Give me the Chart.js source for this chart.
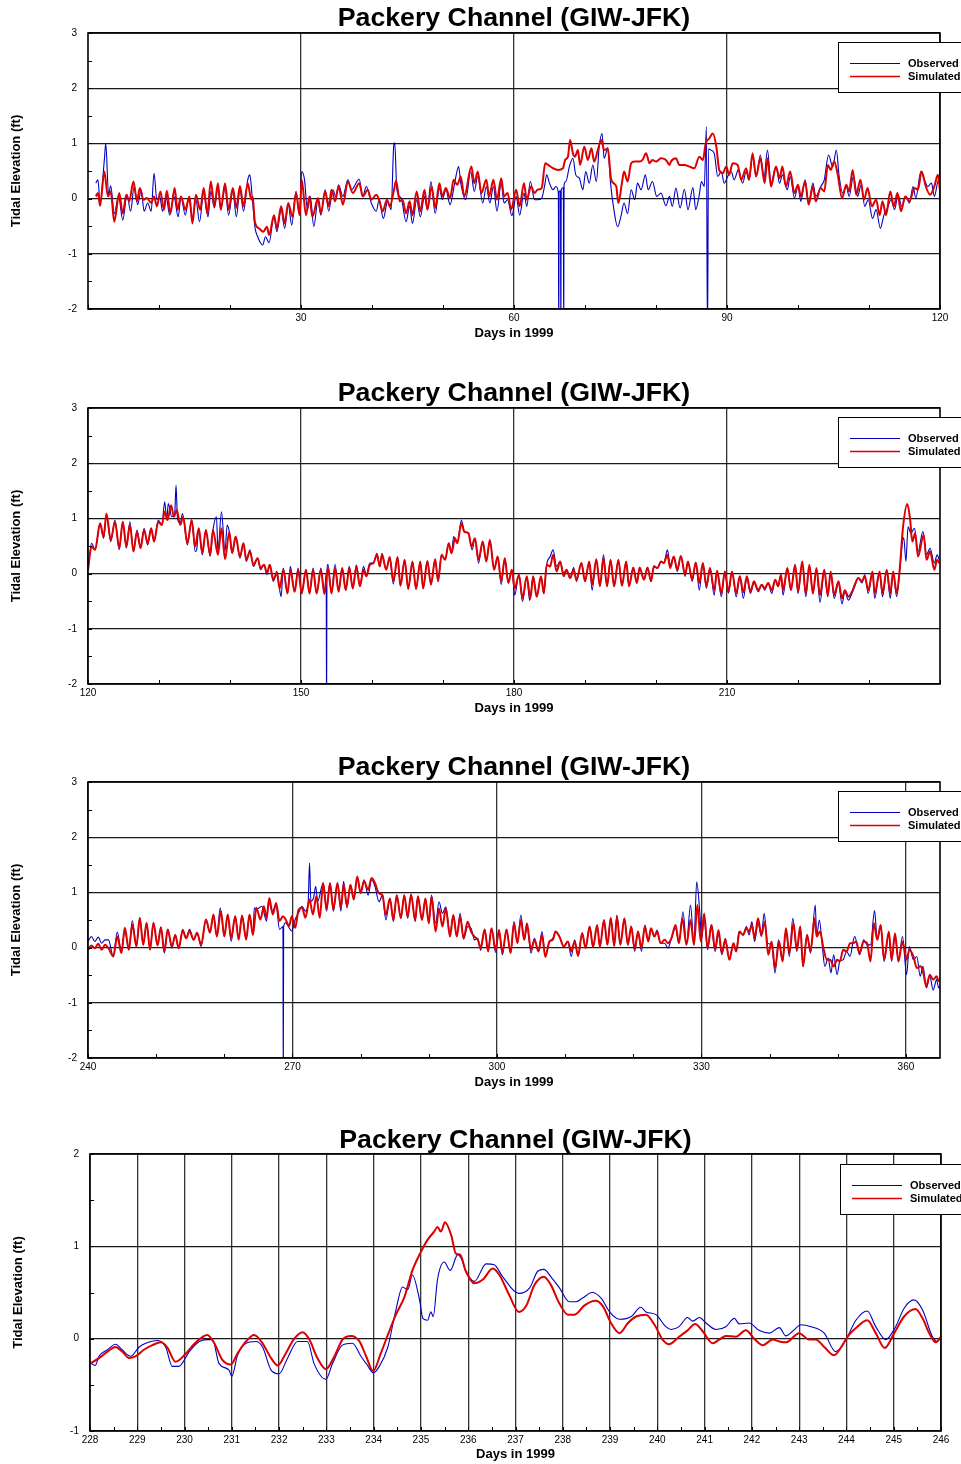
<!DOCTYPE html>
<html><head><meta charset="utf-8">
<script src="https://cdn.jsdelivr.net/npm/chart.js@4.4.1/dist/chart.umd.min.js"></script>
<style>
html,body{margin:0;padding:0;background:#fff;overflow:hidden;width:961px;height:1464px;}
canvas{position:absolute;left:0;}
</style></head><body>
<canvas id="c1" width="961" height="345" style="top:0px"></canvas>
<canvas id="c2" width="961" height="345" style="top:375px"></canvas>
<canvas id="c3" width="961" height="345" style="top:749px"></canvas>
<canvas id="c4" width="961" height="345" style="top:1121px"></canvas>
<script>
const TITLE = 'Packery Channel (GIW-JFK)';
const X_TITLE = 'Days in 1999';
const Y_TITLE = 'Tidal Elevation (ft)';

const P1_X_TICKS = [30, 60, 90, 120];
const P2_X_TICKS = [120, 150, 180, 210];
const P3_X_TICKS = [240, 270, 300, 330, 360];
const P4_X_TICKS = [228, 229, 230, 231, 232, 233, 234, 235, 236, 237, 238, 239, 240, 241, 242, 243, 244, 245, 246];
const Y_TICKS_A = [-2, -1, 0, 1, 2, 3];
const Y_TICKS_B = [-1, 0, 1, 2];

// [day, elevation ft]
const P1_SIMULATED = [[1.1,0.04],[1.4,0.10],[1.7,-0.13],[2.3,0.49],[2.8,0.04],[3.2,0.13],[3.7,-0.42],[4.4,0.10],[4.9,-0.27],[5.4,0.07],[5.8,-0.05],[6.4,0.31],[6.9,-0.05],[7.3,0.19],[7.8,-0.02],[8.3,0.01],[8.9,-0.08],[9.3,0.04],[9.7,-0.14],[10.2,0.13],[10.7,-0.20],[11.1,0.14],[11.6,-0.27],[12.2,0.19],[12.6,-0.20],[13.1,0.04],[13.7,-0.20],[14.3,0.04],[14.7,-0.45],[15.2,0.07],[15.8,-0.20],[16.3,0.19],[16.8,-0.27],[17.3,0.31],[17.8,-0.14],[18.3,0.28],[18.7,-0.20],[19.3,0.28],[19.8,-0.20],[20.4,0.19],[20.9,-0.17],[21.4,0.23],[21.9,-0.14],[22.5,0.28],[23.0,-0.02],[23.2,0.04],[23.5,-0.42],[24.1,-0.54],[24.7,-0.60],[25.2,-0.51],[25.5,-0.66],[26.2,-0.30],[26.6,-0.54],[27.2,-0.14],[27.7,-0.45],[28.2,-0.08],[28.8,-0.33],[29.3,0.10],[29.8,-0.30],[30.1,0.34],[30.7,-0.30],[31.2,0.04],[31.6,-0.33],[32.4,0.01],[32.8,-0.27],[33.4,0.13],[33.9,-0.14],[34.3,0.16],[34.8,-0.05],[35.3,0.22],[35.9,-0.11],[36.6,0.31],[37.3,0.10],[38.2,0.28],[38.7,0.04],[39.4,0.16],[39.9,-0.02],[40.6,0.07],[41.0,-0.02],
[41.5,-0.23],[42.1,-0.02],[42.5,-0.14],[43.1,0.16],[43.4,0.33],[43.9,-0.05],[44.3,-0.02],[44.8,-0.27],[45.3,-0.05],[45.7,-0.30],[46.3,0.13],[46.8,-0.23],[47.4,0.16],[47.8,-0.20],[48.4,0.22],[48.9,-0.17],[49.5,0.28],[49.9,0.04],[50.4,0.19],[51.0,0.01],[51.5,0.34],[52.0,0.25],[52.5,0.40],[53.0,0.04],[54.0,0.58],[54.4,0.28],[54.9,0.49],[55.4,0.10],[56.1,0.34],[56.5,0.04],[57.1,0.34],[57.6,-0.02],[58.2,0.37],[58.6,0.04],[59.1,0.10],[59.6,-0.20],[60.3,0.16],[60.8,-0.14],[61.4,0.28],[61.8,-0.02],[62.4,0.22],[62.9,0.10],[63.3,0.16],[63.9,0.19],[64.4,0.64],[64.8,0.61],[65.5,0.55],[66.2,0.52],[66.9,0.55],[67.2,0.70],[67.6,0.76],[67.9,1.06],[68.3,0.82],[68.6,0.76],[69.0,0.88],[69.3,0.61],[69.9,0.94],[70.4,0.70],[70.9,0.91],[71.3,0.67],[71.8,0.88],[72.3,1.06],[72.7,0.88],[73.2,0.91],[73.7,0.34],[74.4,0.22],[74.7,-0.08],[75.2,0.28],[75.5,0.49],[76.0,0.31],[76.5,0.64],[77.0,0.67],[77.7,0.67],[78.1,0.70],[78.6,0.82],[79.1,0.64],[79.5,0.70],[80.0,0.67],[80.7,0.73],[81.4,0.70],[81.9,0.61],
[82.1,0.67],[82.8,0.73],[83.3,0.61],[84.0,0.61],[84.7,0.58],[85.4,0.55],[86.1,0.76],[86.6,0.70],[87.0,1.00],[87.5,1.09],[88.0,1.18],[88.5,0.94],[88.9,0.52],[89.4,0.46],[89.9,0.58],[90.3,0.43],[90.8,0.64],[91.5,0.61],[92.0,0.34],[92.7,0.55],[93.1,0.34],[93.6,0.82],[94.1,0.40],[94.7,0.73],[95.3,0.28],[95.7,0.73],[96.2,0.22],[96.9,0.58],[97.4,0.37],[97.8,0.58],[98.3,0.22],[98.9,0.49],[99.5,0.10],[100.0,0.25],[100.4,0.04],[101.0,0.31],[101.5,-0.11],[102.1,0.22],[102.5,-0.05],[103.2,0.19],[103.7,0.13],[104.2,0.61],[104.6,0.52],[105.1,0.67],[105.6,0.43],[106.2,0.01],[106.8,0.25],[107.2,0.13],[107.7,0.52],[108.2,0.07],[108.8,0.34],[109.3,-0.02],[109.8,0.19],[110.4,-0.14],[111.0,-0.02],[111.5,-0.30],[111.9,-0.05],[112.4,-0.30],[113.0,0.13],[113.5,-0.14],[114.0,0.10],[114.5,-0.23],[115.1,0.04],[115.7,-0.05],[116.4,0.19],[116.9,0.16],[117.4,0.49],[118.0,0.22],[118.6,0.07],[119.2,0.22],[119.7,0.43],[120.0,0.15]];

const P1_OBSERVED = [[1.1,0.28],[1.4,0.34],[1.7,-0.08],[2.3,0.70],[2.5,1.00],[2.9,0.07],[3.2,0.23],[3.7,-0.27],[4.3,0.04],[4.9,-0.39],[5.5,0.07],[6.0,-0.23],[6.5,0.22],[7.0,-0.11],[7.5,0.16],[7.9,-0.23],[8.4,-0.08],[8.9,-0.23],[9.3,0.46],[9.7,-0.02],[10.1,0.04],[10.5,-0.23],[11.0,0.04],[11.5,-0.30],[12.1,0.04],[12.7,-0.33],[13.1,0.04],[13.7,-0.30],[14.2,0.01],[14.7,-0.36],[15.2,-0.02],[15.7,-0.42],[16.3,0.10],[16.9,-0.33],[17.3,0.13],[17.8,-0.17],[18.3,0.19],[18.7,-0.20],[19.3,0.19],[19.8,-0.30],[20.4,0.13],[20.9,-0.33],[21.4,0.16],[21.9,-0.23],[22.5,0.34],[22.8,0.43],[23.1,0.07],[23.5,-0.51],[23.9,-0.69],[24.6,-0.84],[25.0,-0.69],[25.5,-0.80],[26.2,-0.33],[26.6,-0.60],[27.2,-0.20],[27.7,-0.54],[28.2,-0.11],[28.7,-0.48],[29.3,0.13],[29.8,-0.30],[30.1,0.49],[30.5,0.34],[30.9,-0.20],[31.3,0.04],[31.8,-0.51],[32.4,-0.02],[32.8,-0.30],[33.4,0.16],[33.9,-0.23],[34.5,0.16],[34.9,0.04],[35.3,0.25],[35.9,0.04],[36.6,0.34],[37.1,0.16],[38.2,0.35],[38.7,0.04],[39.2,0.22],[39.9,-0.08],[40.6,-0.23],[41.0,-0.02],
[41.6,-0.36],[42.2,-0.05],[42.7,-0.20],[43.05,0.94],[43.2,1.01],[43.5,0.16],[44.1,0.01],[44.8,-0.42],[45.3,-0.14],[45.7,-0.45],[46.3,-0.02],[46.8,-0.33],[47.4,0.04],[47.8,-0.20],[48.3,0.31],[48.9,-0.27],[49.5,0.19],[49.9,-0.02],[50.4,0.16],[51.0,-0.11],[51.6,0.25],[52.2,0.58],[52.5,0.28],[53.2,-0.02],[53.9,0.49],[54.4,0.13],[54.9,0.40],[55.6,-0.08],[56.1,0.22],[56.6,-0.08],[57.1,0.22],[57.6,-0.23],[58.2,0.28],[58.6,-0.08],[59.1,-0.02],[59.7,-0.31],[60.3,0.04],[60.8,-0.30],[61.4,0.10],[61.8,-0.14],[62.3,0.31],[62.9,-0.02],[63.3,-0.02],[63.9,0.01],[64.3,0.22],[64.6,0.43],[65.0,0.28],[65.5,0.16],[65.9,0.22],[66.25,0.10],[66.3,-2.6],[66.35,0.12],[66.55,0.14],[66.6,-2.6],[66.65,0.16],[66.95,0.20],[67.0,-2.6],[67.05,0.25],[67.3,0.31],[67.8,0.58],[68.3,0.73],[68.7,0.43],[69.2,0.37],[69.7,0.16],[70.1,0.49],[70.6,0.28],[71.1,0.61],[71.6,0.31],[72.0,0.94],[72.4,1.18],[72.7,0.73],[73.2,0.91],[73.6,0.28],[74.0,-0.14],[74.6,-0.51],[75.1,-0.30],[75.5,-0.08],[76.0,-0.27],[76.5,0.16],[77.0,-0.02],[77.4,0.28],[77.9,0.16],[78.5,0.43],[78.9,0.16],[79.5,0.31],[80.1,0.04],[80.7,0.10],[81.4,-0.13],[81.9,0.04],
[82.3,-0.14],[82.8,0.19],[83.4,-0.17],[84.0,0.17],[84.5,-0.20],[85.2,0.20],[85.6,-0.20],[86.1,0.07],[86.4,0.31],[86.8,0.22],[87.1,1.30],[87.25,-2.6],[87.4,0.90],[87.7,0.88],[88.2,0.82],[88.7,0.40],[89.2,0.49],[89.6,0.28],[90.1,0.40],[90.6,0.49],[91.0,0.34],[91.6,0.52],[92.2,0.28],[92.7,0.49],[93.1,0.34],[93.6,0.76],[94.1,0.40],[94.7,0.79],[95.2,0.37],[95.7,0.88],[96.2,0.28],[96.9,0.58],[97.4,0.28],[97.8,0.43],[98.5,0.16],[98.9,0.40],[99.5,0.01],[100.0,0.22],[100.4,-0.05],[101.0,0.34],[101.5,-0.08],[102.1,0.28],[102.5,0.04],[103.2,0.22],[103.7,0.34],[104.3,0.79],[104.9,0.58],[105.4,0.88],[105.8,0.40],[106.3,0.10],[106.8,0.22],[107.2,0.04],[107.8,0.40],[108.4,0.04],[108.9,0.25],[109.4,-0.14],[109.9,-0.02],[110.5,-0.36],[111.0,-0.20],[111.6,-0.54],[112.1,-0.30],[112.6,-0.17],[113.1,-0.02],[113.6,-0.20],[114.1,0.07],[114.6,-0.14],[115.2,0.04],[115.7,-0.08],[116.2,0.22],[116.6,0.01],[117.3,0.49],[117.8,0.34],[118.3,0.22],[118.8,0.28],[119.2,0.04],[119.8,0.34],[120.0,0.28]];

const P2_SIMULATED = [[120.0,0.07],[120.5,0.49],[121.0,0.43],[121.7,0.91],[122.2,0.67],[122.6,1.09],[123.2,0.61],[123.8,0.94],[124.4,0.46],[124.9,0.94],[125.4,0.49],[125.9,0.88],[126.4,0.40],[126.9,0.76],[127.4,0.46],[127.9,0.79],[128.4,0.55],[128.9,0.82],[129.3,0.58],[129.9,0.94],[130.4,0.88],[130.8,1.12],[131.2,0.97],[131.7,1.24],[132.1,1.03],[132.5,1.15],[133.0,0.88],[133.4,1.03],[134.0,0.55],[134.6,0.97],[135.1,0.49],[135.6,0.82],[136.1,0.37],[136.6,0.79],[137.2,0.34],[137.6,0.79],[138.3,0.34],[138.8,0.82],[139.3,0.26],[139.9,0.76],[140.3,0.37],[140.8,0.67],[141.4,0.31],[141.9,0.55],[142.3,0.25],[142.8,0.40],[143.3,0.16],[143.9,0.28],[144.3,0.10],[144.8,0.16],[145.2,0.01],[145.6,0.16],[146.1,-0.11],[146.6,0.01],[147.0,-0.27],[147.5,0.07],[148.1,-0.36],[148.5,0.07],[149.1,-0.33],[149.6,0.07],[150.1,-0.36],[150.7,0.07],[151.2,-0.36],[151.7,0.07],[152.2,-0.36],[152.8,0.07],[153.3,-0.37],[153.8,0.10],[154.3,-0.36],[154.8,0.10],[155.3,-0.33],[155.8,0.10],[156.3,-0.30],[156.8,0.10],[157.3,-0.27],[157.8,0.13],[158.3,-0.23],[158.8,0.07],[159.2,-0.05],[159.7,0.16],[160.2,0.19],[160.7,0.34],[161.1,0.13],
[161.4,0.34],[162.0,0.07],[162.5,0.30],[163.0,-0.14],[163.6,0.30],[164.0,-0.22],[164.6,0.25],[165.1,-0.28],[165.7,0.22],[166.2,-0.28],[166.8,0.22],[167.2,-0.27],[167.8,0.23],[168.3,-0.20],[168.9,0.26],[169.3,-0.14],[169.8,0.34],[170.3,0.25],[170.8,0.55],[171.2,0.37],[171.7,0.64],[172.0,0.55],[172.6,0.91],[173.0,0.76],[173.6,0.73],[174.0,0.49],[174.5,0.64],[175.0,0.25],[175.6,0.58],[176.1,0.22],[176.6,0.61],[177.2,0.07],[177.7,0.31],[178.2,-0.14],[178.7,0.28],[179.2,-0.17],[179.7,0.07],[180.1,-0.27],[180.7,-0.02],[181.2,-0.45],[181.8,-0.05],[182.3,-0.45],[182.7,-0.05],[183.2,-0.42],[183.8,-0.05],[184.2,-0.36],[184.6,0.16],[185.1,0.13],[185.5,0.34],[186.0,0.04],[186.5,0.22],[187.0,-0.05],[187.4,0.07],[187.9,-0.08],[188.4,0.07],[188.8,-0.11],[189.5,0.19],[190.0,-0.14],[190.6,0.22],[191.0,-0.20],[191.6,0.26],[192.1,-0.23],[192.6,0.28],[193.1,-0.23],[193.6,0.25],[194.1,-0.23],[194.7,0.25],[195.2,-0.22],[195.8,0.22],[196.2,-0.23],[196.8,0.11],[197.3,-0.17],[197.7,0.11],[198.3,-0.11],[198.8,0.11],[199.3,-0.14],[199.7,0.13],[200.2,0.10],[200.7,0.22],[201.1,0.19],[201.6,0.34],
[202.0,0.10],[202.5,0.31],[203.0,0.07],[203.5,0.32],[204.1,-0.02],[204.5,0.22],[205.1,-0.11],[205.6,0.20],[206.1,-0.17],[206.6,0.19],[207.1,-0.23],[207.6,0.10],[208.2,-0.30],[208.6,0.05],[209.2,-0.36],[209.7,0.04],[210.2,-0.33],[210.7,0.04],[211.3,-0.36],[211.8,-0.05],[212.3,-0.34],[212.8,-0.05],[213.3,-0.33],[213.8,-0.14],[214.4,-0.30],[214.9,-0.20],[215.3,-0.27],[215.8,-0.17],[216.3,-0.30],[216.8,-0.11],[217.2,-0.23],[217.6,-0.02],[217.9,-0.30],[218.5,0.10],[219.0,-0.30],[219.6,0.16],[220.0,-0.33],[220.6,0.22],[221.1,-0.36],[221.6,0.16],[222.1,-0.36],[222.6,0.10],[223.1,-0.39],[223.7,0.07],[224.2,-0.39],[224.6,0.04],[225.1,-0.39],[225.7,-0.14],[226.2,-0.45],[226.6,-0.30],[227.1,-0.42],[227.6,-0.33],[228.0,-0.20],[228.5,-0.08],[229.0,-0.14],[229.4,-0.05],[229.9,-0.30],[230.5,0.04],[230.8,-0.36],[231.5,0.04],[231.9,-0.36],[232.5,0.07],[233.0,-0.36],[233.4,0.04],[233.9,-0.36],[234.3,0.04],[234.8,0.85],[235.4,1.26],[235.8,0.97],[236.1,0.58],[236.5,0.73],[236.9,0.31],[237.7,0.70],[238.1,0.25],[238.6,0.40],[239.2,0.07],[239.6,0.25],[239.9,0.19]];

const P2_OBSERVED = [[120.0,0.07],[120.5,0.55],[121.0,0.43],[121.7,0.91],[122.2,0.64],[122.6,1.06],[123.2,0.58],[123.8,0.97],[124.4,0.43],[124.9,0.94],[125.4,0.46],[125.9,0.94],[126.4,0.40],[126.9,0.79],[127.4,0.46],[127.9,0.82],[128.4,0.52],[128.9,0.82],[129.3,0.58],[129.9,0.97],[130.4,0.88],[130.8,1.30],[131.1,0.97],[131.3,1.27],[131.8,1.03],[132.2,1.06],[132.4,1.60],[132.6,1.00],[133.0,0.91],[133.3,1.09],[134.0,0.52],[134.6,0.97],[135.1,0.40],[135.3,0.43],[135.6,0.82],[136.1,0.34],[136.6,0.79],[137.2,0.31],[137.6,0.79],[138.1,1.03],[138.3,0.40],[138.8,1.12],[139.3,0.40],[139.6,0.88],[139.9,0.76],[140.3,0.37],[140.8,0.67],[141.4,0.28],[141.9,0.55],[142.3,0.22],[142.8,0.43],[143.3,0.13],[143.9,0.28],[144.3,0.07],[144.8,0.16],[145.2,-0.02],[145.6,0.16],[146.1,-0.14],[146.6,0.04],[147.0,-0.30],[147.2,-0.42],[147.5,0.10],[148.1,-0.36],[148.5,0.13],[149.1,-0.33],[149.6,0.10],[150.1,-0.36],[150.7,0.07],[151.2,-0.36],[151.7,0.10],[152.2,-0.36],[152.8,0.10],[153.3,-0.37],[153.55,0.0],[153.6,-2.6],[153.65,0.0],[153.8,0.17],[154.3,-0.36],[154.8,0.17],[155.3,-0.33],[155.8,0.10],[156.3,-0.30],[156.8,0.13],[157.3,-0.27],[157.8,0.16],[158.3,-0.23],[158.8,0.13],[159.2,-0.02],[159.7,0.19],[160.2,0.19],[160.7,0.37],[161.1,0.13],
[161.4,0.37],[162.0,0.07],[162.5,0.30],[163.0,-0.19],[163.6,0.30],[164.0,-0.22],[164.6,0.25],[165.1,-0.28],[165.7,0.22],[166.2,-0.28],[166.8,0.22],[167.2,-0.27],[167.8,0.23],[168.3,-0.20],[168.9,0.26],[169.3,-0.14],[169.8,0.34],[170.3,0.25],[170.8,0.55],[171.2,0.37],[171.5,0.67],[172.0,0.55],[172.6,0.97],[173.0,0.76],[173.6,0.73],[174.1,0.43],[174.5,0.64],[175.0,0.19],[175.6,0.58],[176.1,0.22],[176.6,0.61],[177.2,0.07],[177.7,0.31],[178.2,-0.20],[178.7,0.28],[179.2,-0.17],[179.7,0.07],[180.1,-0.39],[180.7,-0.02],[181.2,-0.51],[181.8,-0.05],[182.2,-0.49],[182.7,-0.05],[183.2,-0.42],[183.8,-0.05],[184.2,-0.36],[184.6,0.16],[185.1,0.31],[185.5,0.43],[186.0,0.13],[186.5,0.22],[187.0,0.01],[187.4,0.07],[187.9,-0.08],[188.4,0.11],[188.8,-0.14],[189.5,0.19],[190.0,-0.14],[190.6,0.22],[191.0,-0.30],[191.6,0.26],[192.1,-0.23],[192.6,0.34],[193.1,-0.23],[193.6,0.25],[194.1,-0.23],[194.7,0.25],[195.2,-0.22],[195.8,0.22],[196.2,-0.23],[196.8,0.11],[197.3,-0.17],[197.7,0.11],[198.3,-0.11],[198.8,0.11],[199.3,-0.14],[199.7,0.14],[200.2,0.10],[200.7,0.22],[201.1,0.19],[201.6,0.43],[202.0,0.16],
[202.5,0.31],[203.0,0.04],[203.5,0.32],[204.1,-0.05],[204.5,0.22],[205.1,-0.14],[205.6,0.20],[206.1,-0.30],[206.6,0.19],[207.1,-0.27],[207.6,0.10],[208.2,-0.39],[208.6,0.05],[209.2,-0.42],[209.7,0.04],[210.2,-0.36],[210.7,0.04],[211.3,-0.42],[211.8,-0.05],[212.3,-0.45],[212.8,-0.08],[213.3,-0.36],[213.8,-0.17],[214.4,-0.33],[214.9,-0.20],[215.3,-0.30],[215.8,-0.17],[216.3,-0.36],[216.8,-0.11],[217.2,-0.23],[217.6,-0.02],[217.9,-0.39],[218.5,0.10],[219.0,-0.30],[219.6,0.16],[220.0,-0.36],[220.6,0.19],[221.1,-0.42],[221.6,0.13],[222.1,-0.36],[222.6,0.07],[223.1,-0.52],[223.7,0.04],[224.2,-0.42],[224.6,0.01],[225.1,-0.45],[225.7,-0.17],[226.2,-0.55],[226.6,-0.33],[227.1,-0.48],[227.6,-0.36],[228.0,-0.23],[228.5,-0.08],[229.0,-0.17],[229.4,-0.02],[229.9,-0.36],[230.5,0.01],[230.8,-0.45],[231.5,0.01],[231.9,-0.42],[232.5,0.04],[233.0,-0.45],[233.4,0.01],[233.9,-0.42],[234.3,0.01],[234.75,0.61],[234.9,0.65],[235.2,0.22],[235.5,0.85],[235.9,0.73],[236.4,0.82],[236.9,0.40],[237.6,0.76],[238.1,0.34],[238.6,0.46],[239.2,0.19],[239.6,0.34],[239.9,0.25]];

const P3_SIMULATED = [[240.0,-0.04],[240.5,0.04],[241.0,-0.01],[241.5,0.07],[242.0,-0.04],[242.5,0.05],[243.0,-0.01],[243.7,-0.16],[244.3,0.20],[244.9,-0.10],[245.4,0.36],[246.0,-0.04],[246.5,0.42],[247.1,0.02],[247.6,0.54],[248.1,0.05],[248.6,0.45],[249.1,-0.04],[249.6,0.45],[250.2,0.04],[250.7,0.37],[251.2,-0.07],[251.7,0.33],[252.3,0.02],[252.8,0.23],[253.3,-0.01],[253.9,0.31],[254.4,0.17],[254.9,0.30],[255.5,0.14],[256.0,0.27],[256.6,0.05],[257.3,0.51],[257.9,0.27],[258.4,0.60],[258.9,0.20],[259.5,0.66],[260.0,0.20],[260.5,0.60],[261.0,0.17],[261.6,0.57],[262.1,0.14],[262.6,0.58],[263.2,0.14],[263.7,0.60],[264.2,0.23],[264.7,0.72],[265.3,0.51],[265.8,0.75],[266.2,0.54],[266.6,0.90],[267.1,0.60],[267.6,0.81],[268.1,0.48],[268.6,0.57],[269.0,0.51],[269.5,0.39],[269.9,0.57],[270.4,0.36],[270.9,0.69],[271.4,0.72],[271.9,0.54],[272.5,0.87],[273.0,0.60],[273.5,0.93],[274.0,0.54],[274.5,1.17],[275.0,0.69],[275.5,1.17],[276.0,0.69],[276.6,1.17],[277.1,0.72],[277.5,1.14],[278.0,0.75],[278.5,1.14],[279.0,0.87],[279.5,1.29],[280.0,0.99],[280.5,1.20],[281.1,1.05],[281.6,1.26],[282.1,1.17],
[282.7,0.98],[283.2,0.95],[283.7,0.59],[284.3,0.89],[284.8,0.50],[285.3,0.95],[285.9,0.53],[286.4,0.95],[286.9,0.56],[287.4,0.96],[288.0,0.50],[288.4,0.93],[289.0,0.50],[289.5,0.89],[290.0,0.44],[290.4,0.92],[291.0,0.29],[291.5,0.71],[292.0,0.38],[292.5,0.71],[293.1,0.20],[293.6,0.59],[294.1,0.20],[294.6,0.56],[295.1,0.17],[295.7,0.47],[296.2,0.29],[296.7,0.20],[297.2,0.14],[297.6,-0.01],[298.2,0.33],[298.7,-0.07],[299.2,0.35],[299.8,-0.04],[300.3,0.32],[300.8,-0.10],[301.4,0.33],[302.0,-0.10],[302.5,0.44],[303.0,0.08],[303.5,0.50],[304.0,0.14],[304.4,0.44],[305.0,-0.04],[305.5,0.14],[306.1,-0.07],[306.6,0.23],[307.1,-0.17],[307.7,0.11],[308.2,0.14],[308.6,0.29],[309.2,0.19],[309.8,0.02],[310.4,0.11],[310.9,-0.07],[311.4,0.11],[311.9,-0.15],[312.5,0.26],[313.0,-0.01],[313.6,0.38],[314.1,0.01],[314.7,0.41],[315.1,0.01],[315.7,0.50],[316.2,0.05],[316.7,0.53],[317.2,0.03],[317.6,0.56],[318.1,0.05],[318.7,0.53],[319.2,0.05],[319.7,0.38],[320.2,-0.03],[320.7,0.29],[321.2,-0.01],[321.7,0.38],[322.2,0.11],[322.6,0.35],[323.1,0.20],[323.5,0.29],[324.0,0.08],[324.6,0.14],[325.1,0.08],[325.6,0.17],
[326.2,0.41],[326.7,0.08],[327.2,0.53],[327.8,0.05],[328.4,0.50],[328.9,0.05],[329.4,0.77],[329.9,0.11],[330.4,0.62],[330.9,-0.01],[331.5,0.41],[332.0,-0.04],[332.5,0.32],[333.0,-0.10],[333.5,0.14],[334.1,-0.22],[334.7,0.08],[335.1,-0.07],[335.6,0.29],[336.1,0.23],[336.6,0.35],[337.0,0.29],[337.4,0.41],[337.8,0.17],[338.3,0.53],[338.8,0.23],[339.3,0.47],[339.8,-0.13],[340.3,0.11],[340.8,-0.37],[341.4,0.11],[341.9,-0.25],[342.4,0.35],[342.9,-0.10],[343.5,0.44],[344.0,-0.04],[344.5,0.38],[344.9,-0.34],[345.5,0.23],[346.0,-0.07],[346.6,0.53],[346.9,0.20],[347.4,0.29],[347.9,-0.01],[348.4,-0.22],[348.9,-0.22],[349.4,-0.34],[349.9,-0.22],[350.3,-0.25],[350.8,-0.04],[351.3,-0.07],[351.8,0.08],[352.3,0.08],[352.7,0.11],[353.2,-0.10],[353.8,0.11],[354.3,0.08],[354.8,-0.25],[355.3,0.44],[355.8,0.14],[356.3,0.41],[356.8,-0.22],[357.5,0.29],[357.9,-0.22],[358.4,0.26],[358.9,-0.25],[359.5,0.11],[360.1,-0.22],[360.5,-0.04],[361.1,-0.16],[361.6,-0.37],[362.1,-0.34],[362.5,-0.43],[363.0,-0.70],[363.5,-0.49],[364.0,-0.58],[364.5,-0.52],[364.8,-0.61],[365.2,-0.49]];

const P3_OBSERVED = [[240.0,0.11],[240.5,0.20],[241.0,0.11],[241.5,0.19],[242.0,0.08],[242.5,0.14],[243.0,0.14],[243.7,-0.16],[244.3,0.28],[244.9,-0.07],[245.4,0.30],[246.0,-0.04],[246.5,0.49],[247.1,0.02],[247.6,0.54],[248.1,0.05],[248.6,0.45],[249.1,-0.04],[249.6,0.45],[250.2,0.04],[250.7,0.37],[251.2,-0.10],[251.7,0.33],[252.3,-0.01],[252.8,0.23],[253.3,-0.02],[253.9,0.33],[254.4,0.17],[254.9,0.33],[255.5,0.14],[256.0,0.27],[256.6,0.02],[257.3,0.51],[257.9,0.27],[258.4,0.60],[258.9,0.20],[259.4,0.72],[260.0,0.20],[260.5,0.60],[261.0,0.11],[261.6,0.57],[262.1,0.17],[262.6,0.58],[263.2,0.17],[263.7,0.60],[264.2,0.23],[264.4,0.72],[264.7,0.69],[265.5,0.75],[266.2,0.48],[266.5,0.84],[267.0,0.66],[267.6,0.75],[268.1,0.33],[268.6,0.38],[268.65,-2.6],[268.7,0.38],[269.0,0.45],[269.5,0.36],[269.9,0.30],[270.4,0.51],[270.9,0.63],[271.4,0.75],[271.9,0.66],[272.3,0.81],[272.5,1.53],[272.7,0.84],[273.1,0.90],[273.4,1.11],[273.7,0.84],[274.5,1.17],[275.0,0.66],[275.5,1.17],[276.0,0.66],[276.6,1.17],[277.1,0.66],[277.5,1.20],[278.0,0.72],[278.5,1.14],[279.0,0.87],[279.5,1.26],[280.0,0.99],[280.5,1.23],[281.1,0.95],[281.6,1.23],[282.1,1.11],[282.7,0.83],
[283.2,0.95],[283.7,0.50],[284.3,0.89],[284.8,0.47],[285.3,0.95],[285.9,0.53],[286.4,0.95],[286.9,0.53],[287.4,0.96],[288.0,0.47],[288.4,0.93],[289.0,0.50],[289.5,0.89],[290.0,0.44],[290.4,0.95],[291.0,0.44],[291.5,0.83],[292.0,0.62],[292.5,0.74],[293.1,0.26],[293.6,0.59],[294.1,0.20],[294.6,0.62],[295.1,0.15],[295.7,0.38],[296.2,0.35],[296.7,0.14],[297.2,0.17],[297.6,-0.05],[298.2,0.33],[298.7,-0.05],[299.2,0.35],[299.8,-0.09],[300.3,0.32],[300.8,-0.13],[301.4,0.33],[302.0,-0.10],[302.5,0.47],[303.0,0.08],[303.5,0.59],[304.0,0.14],[304.4,0.38],[305.0,-0.10],[305.5,0.17],[306.1,-0.07],[306.6,0.29],[307.1,-0.13],[307.7,0.11],[308.2,0.17],[308.6,0.29],[309.2,0.19],[309.8,0.01],[310.4,0.11],[310.9,-0.16],[311.4,0.14],[311.9,-0.15],[312.5,0.27],[313.0,-0.01],[313.6,0.38],[314.1,0.01],[314.7,0.41],[315.1,0.01],[315.7,0.50],[316.2,0.05],[316.7,0.55],[317.2,0.03],[317.6,0.59],[318.1,0.05],[318.7,0.53],[319.2,0.05],[319.7,0.38],[320.2,-0.07],[320.7,0.29],[321.2,-0.07],[321.7,0.41],[322.2,0.11],[322.6,0.35],[323.1,0.20],[323.5,0.32],[324.0,0.08],[324.6,0.08],[325.1,-0.01],[325.6,0.17],
[326.2,0.35],[326.7,0.08],[327.3,0.65],[327.8,0.05],[328.4,0.77],[328.9,0.05],[329.3,1.19],[329.8,0.56],[330.0,0.14],[330.4,0.50],[330.9,-0.04],[331.4,0.41],[332.0,-0.07],[332.5,0.23],[333.0,-0.13],[333.5,0.17],[334.1,-0.22],[334.7,0.08],[335.1,-0.07],[335.5,0.29],[336.1,0.23],[336.6,0.38],[337.0,0.23],[337.4,0.47],[337.8,0.11],[338.3,0.44],[338.8,0.20],[339.2,0.62],[339.7,0.08],[340.3,0.05],[340.8,-0.46],[341.3,0.14],[341.9,-0.25],[342.4,0.32],[342.9,-0.16],[343.4,0.53],[344.0,-0.07],[344.5,0.38],[344.9,-0.34],[345.5,0.23],[346.0,-0.10],[346.7,0.77],[346.9,0.20],[347.3,0.50],[347.7,0.08],[348.1,-0.34],[348.6,-0.19],[349.0,-0.46],[349.4,-0.13],[349.9,-0.49],[350.3,-0.25],[350.8,-0.22],[351.3,-0.07],[351.8,-0.16],[352.3,0.14],[352.5,0.20],[353.2,-0.13],[353.8,0.14],[354.3,0.05],[354.8,0.05],[355.4,0.67],[355.8,0.14],[356.3,0.41],[356.8,-0.25],[357.5,0.26],[357.9,-0.25],[358.4,0.23],[358.9,-0.25],[359.5,0.20],[360.1,-0.49],[360.5,0.02],[361.1,-0.22],[361.6,-0.16],[362.1,-0.52],[362.5,-0.34],[363.0,-0.73],[363.5,-0.52],[364.0,-0.77],[364.5,-0.58],[364.8,-0.73],[365.2,-0.64]];

const P4_SIMULATED = [[228.00,-0.27],[228.19,-0.21],[228.37,-0.14],[228.54,-0.09],[228.68,-0.14],[228.83,-0.21],[228.97,-0.19],[229.14,-0.12],[229.32,-0.07],[229.50,-0.04],[229.64,-0.10],[229.81,-0.25],[230.03,-0.16],[230.24,-0.04],[230.48,0.04],[230.63,-0.05],[230.80,-0.23],[230.98,-0.28],[231.12,-0.16],[231.30,-0.03],[231.47,0.04],[231.65,-0.05],[231.83,-0.21],[231.97,-0.29],[232.14,-0.16],[232.32,0.00],[232.50,0.07],[232.64,-0.01],[232.81,-0.21],[232.99,-0.33],[233.17,-0.19],[233.34,-0.01],[233.52,0.03],[233.70,-0.03],[233.84,-0.19],[233.99,-0.35],[234.15,-0.16],[234.30,0.04],[234.47,0.26],[234.65,0.45],[234.82,0.74],[235.00,0.94],[235.14,1.07],[235.28,1.16],[235.35,1.21],[235.42,1.16],[235.51,1.26],[235.64,1.12],[235.74,0.92],[235.83,0.91],[235.95,0.73],[236.13,0.60],[236.31,0.64],[236.52,0.76],[236.66,0.69],[236.87,0.47],[237.07,0.29],[237.23,0.36],[237.40,0.58],[237.60,0.67],[237.75,0.58],[237.93,0.38],[238.11,0.26],[238.25,0.26],[238.46,0.36],[238.69,0.41],[238.85,0.35],[239.02,0.17],[239.20,0.06],[239.38,0.17],[239.55,0.24],[239.76,0.26],[239.94,0.15],[240.11,-0.01],[240.25,-0.06],[240.46,0.02],[240.64,0.09],[240.80,0.16],[240.96,0.08],[241.17,-0.05],[241.31,-0.01],[241.45,0.03],[241.66,0.02],[241.87,0.09],[242.05,0.00],[242.23,-0.07],[242.44,-0.01],[242.58,-0.03],[242.72,-0.04],[243.00,0.06],[243.21,-0.01],[243.35,-0.01],[243.53,-0.09],[243.74,-0.18],[243.88,-0.10],[244.02,0.02],[244.23,0.13],[244.44,0.20],[244.62,0.06],[244.81,-0.10],[245.01,0.06],[245.22,0.24],[245.46,0.32],[245.61,0.22],[245.75,0.06],[245.89,-0.04],[246.01,0.03]];

const P4_OBSERVED = [[228.00,-0.26],[228.11,-0.29],[228.19,-0.19],[228.37,-0.12],[228.54,-0.06],[228.68,-0.12],[228.86,-0.19],[229.04,-0.09],[229.18,-0.05],[229.43,-0.02],[229.60,-0.09],[229.74,-0.30],[229.88,-0.30],[230.10,-0.14],[230.31,-0.03],[230.48,-0.01],[230.59,-0.01],[230.73,-0.27],[230.94,-0.34],[231.00,-0.41],[231.12,-0.18],[231.30,-0.05],[231.51,-0.03],[231.65,-0.09],[231.83,-0.34],[232.00,-0.38],[232.18,-0.21],[232.39,-0.03],[232.60,-0.03],[232.74,-0.27],[232.99,-0.44],[233.13,-0.27],[233.34,-0.07],[233.55,-0.05],[233.73,-0.19],[233.87,-0.29],[233.99,-0.37],[234.12,-0.30],[234.30,-0.09],[234.47,0.31],[234.61,0.56],[234.72,0.53],[234.82,0.69],[234.97,0.42],[235.04,0.22],[235.14,0.20],[235.21,0.29],[235.26,0.24],[235.35,0.64],[235.49,0.83],[235.62,0.74],[235.78,0.91],[235.85,0.87],[235.95,0.73],[236.13,0.62],[236.38,0.81],[236.55,0.80],[236.73,0.67],[237.07,0.49],[237.30,0.55],[237.47,0.73],[237.60,0.75],[237.75,0.67],[237.93,0.55],[238.14,0.40],[238.28,0.40],[238.42,0.44],[238.62,0.50],[238.81,0.44],[238.99,0.29],[239.20,0.21],[239.45,0.24],[239.65,0.34],[239.76,0.29],[239.97,0.26],[240.18,0.13],[240.29,0.10],[240.46,0.13],[240.64,0.23],[240.75,0.19],[240.89,0.23],[241.03,0.17],[241.24,0.10],[241.45,0.13],[241.63,0.22],[241.73,0.16],[241.94,0.17],[242.15,0.09],[242.37,0.06],[242.58,0.12],[242.72,0.03],[242.86,0.08],[243.04,0.15],[243.25,0.13],[243.53,0.06],[243.77,-0.14],[243.99,-0.01],[244.20,0.20],[244.44,0.30],[244.62,0.13],[244.83,-0.01],[245.04,0.13],[245.22,0.33],[245.43,0.42],[245.61,0.31],[245.82,0.02],[245.92,-0.03],[246.01,0.03]];

const FONT = "'Liberation Sans', Arial, Helvetica, sans-serif";
Chart.defaults.font.family = FONT;
Chart.defaults.color = '#000';

function toXY(arr) { return arr.map(p => ({x: p[0], y: p[1]})); }

const framePlugin = {
  id: 'framePlugin',
  afterDatasetsDraw(chart, args, opts) {
    const {ctx, chartArea: a, scales} = chart;
    const xs = scales.x, ys = scales.y;
    ctx.save();
    ctx.strokeStyle = '#000';
    ctx.lineWidth = 1;
    for (let v = xs.min; v <= xs.max + 1e-9; v += opts.xMinorStep) {
      const px = Math.round(xs.getPixelForValue(v)) + 0.5;
      ctx.beginPath(); ctx.moveTo(px, a.bottom); ctx.lineTo(px, a.bottom - 4); ctx.stroke();
    }
    for (let v = ys.min; v <= ys.max + 1e-9; v += 0.5) {
      const py = Math.round(ys.getPixelForValue(v)) + 0.5;
      ctx.beginPath(); ctx.moveTo(a.left, py); ctx.lineTo(a.left + 4, py); ctx.stroke();
    }
    ctx.lineWidth = 1.6;
    ctx.strokeRect(a.left, a.top, a.right - a.left, a.bottom - a.top);
    // legend box
    const bx = a.right - opts.legendDx, by = a.top + opts.legendDy;
    ctx.fillStyle = '#fff';
    ctx.fillRect(bx, by, 200, 50);
    ctx.lineWidth = 1;
    ctx.strokeStyle = '#000';
    ctx.strokeRect(bx + 0.5, by + 0.5, 200, 50);
    const items = [chart.data.datasets[1], chart.data.datasets[0]];
    items.forEach((ds, i) => {
      const y = by + 21 + i * 13;
      ctx.strokeStyle = ds.borderColor;
      ctx.lineWidth = i === 0 ? 1 : 1.6;
      ctx.beginPath(); ctx.moveTo(bx + 12, y + 0.5); ctx.lineTo(bx + 62, y + 0.5); ctx.stroke();
      ctx.fillStyle = '#000';
      ctx.font = 'bold 11px ' + FONT;
      ctx.textBaseline = 'middle';
      ctx.textAlign = 'left';
      ctx.fillText(ds.label, bx + 70, y + 1);
    });
    ctx.restore();
  }
};

function makePanel(id, o) {
  return new Chart(document.getElementById(id), {
    type: 'line',
    data: {
      datasets: [
        {label: 'Simulated', data: toXY(o.sim), borderColor: '#DD0000', borderWidth: 2, pointRadius: 0, cubicInterpolationMode: 'monotone', order: 0},
        {label: 'Observed', data: toXY(o.obs), borderColor: '#0000C0', borderWidth: 1.1, pointRadius: 0, cubicInterpolationMode: 'monotone', order: 1}
      ]
    },
    options: {
      responsive: false, animation: false, devicePixelRatio: 1,
      layout: {padding: {left: o.padLeft, right: o.padRight, top: 0, bottom: 0}},
      plugins: {
        legend: {display: false}, tooltip: {enabled: false},
        title: {display: true, text: TITLE, fullSize: false, color: '#000',
          font: {size: 26.7, weight: 'bold', lineHeight: o.titleLH + 'px'},
          padding: {top: o.titleTop, bottom: 0}},
        framePlugin: {xMinorStep: o.xMinor, legendDx: o.legendDx, legendDy: o.legendDy}
      },
      scales: {
        x: {
          type: 'linear', min: o.xMin, max: o.xMax,
          afterBuildTicks: s => { s.ticks = o.xTicks.map(v => ({value: v})); },
          afterFit: s => { s.height = o.xHeight; },
          ticks: {autoSkip: false, maxRotation: 0, minRotation: 0, padding: 3, font: {size: 10}, color: '#000', callback: v => String(v)},
          grid: {color: '#333', lineWidth: 1.3, drawTicks: false},
          border: {display: false},
          title: {display: true, text: X_TITLE, color: '#000', font: {size: 13, weight: 'bold'}, padding: {top: 0, bottom: 4}}
        },
        y: {
          min: o.yMin, max: o.yMax,
          afterBuildTicks: s => { s.ticks = o.yTicks.map(v => ({value: v})); },
          afterFit: s => { s.width = 84; },
          ticks: {padding: 11, font: {size: 10}, color: '#000', callback: v => String(v)},
          grid: {color: '#1a1a1a', lineWidth: 1.2, drawTicks: false},
          border: {display: false},
          title: {display: true, text: Y_TITLE, color: '#000', font: {size: 13, weight: 'bold'}, padding: {top: 4.2, bottom: 0}}
        }
      }
    },
    plugins: [framePlugin]
  });
}

const common = {padLeft: 4, padRight: 21, titleLH: 29, titleTop: 4, xHeight: 36, xMinor: 10, yMin: -2, yMax: 3, yTicks: Y_TICKS_A, legendDx: 102, legendDy: 9};
makePanel('c1', Object.assign({}, common, {sim: P1_SIMULATED, obs: P1_OBSERVED, xMin: 0, xMax: 120, xTicks: P1_X_TICKS}));
makePanel('c2', Object.assign({}, common, {sim: P2_SIMULATED, obs: P2_OBSERVED, xMin: 120, xMax: 240, xTicks: P2_X_TICKS}));
makePanel('c3', Object.assign({}, common, {sim: P3_SIMULATED, obs: P3_OBSERVED, xMin: 240, xMax: 365, xTicks: P3_X_TICKS}));
makePanel('c4', {sim: P4_SIMULATED, obs: P4_OBSERVED, xMin: 228, xMax: 246, xTicks: P4_X_TICKS, padLeft: 6, padRight: 20, titleLH: 26, titleTop: 7, xHeight: 35, xMinor: 0.5, yMin: -1, yMax: 2, yTicks: Y_TICKS_B, legendDx: 101, legendDy: 10});
</script>
</body></html>
